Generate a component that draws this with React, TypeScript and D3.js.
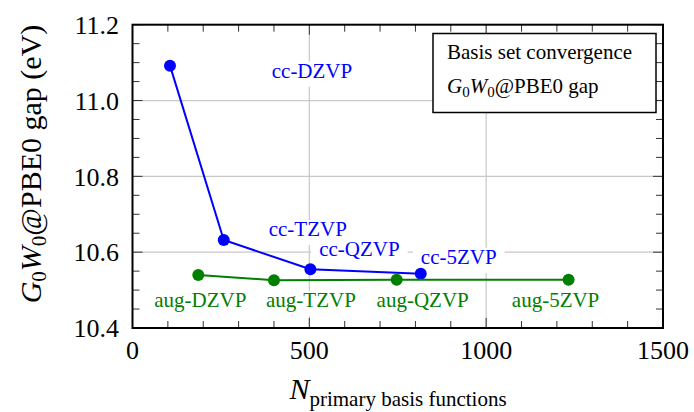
import { useEffect, useRef } from 'react'
import * as d3 from 'd3'

// cc basis sets (blue)
const ccLabels = ['cc-DZVP', 'cc-TZVP', 'cc-QZVP', 'cc-5ZVP']
const ccN = [106, 258, 503, 815]
const ccGap = [11.092, 10.632, 10.555, 10.543]

// aug basis sets (green)
const augLabels = ['aug-DZVP', 'aug-TZVP', 'aug-QZVP', 'aug-5ZVP']
const augN = [186, 400, 747, 1233]
const augGap = [10.54, 10.526, 10.527, 10.527]

const xTicks = [0, 500, 1000, 1500]
const yTicks = [10.4, 10.6, 10.8, 11.0, 11.2]

// label offsets from their point, in pixels
const ccOffsets = [[142, 12], [84, -4], [49, -13], [38, -10]]
const augOffsets = [[2, 32], [37, 27], [26, 27], [-13, 27]]

const FONT = 'Liberation Serif, DejaVu Serif, serif'

export default function App() {
  const svgRef = useRef<SVGSVGElement>(null)

  useEffect(() => {
    if (!svgRef.current) return
    const width = 694
    const height = 412
    const left = 132.5, right = 663, top = 24.7, bottom = 328

    const svg = d3.select(svgRef.current)
    svg.selectAll('*').remove()
    svg.attr('width', width).attr('height', height).attr('font-family', FONT)

    const x = d3.scaleLinear().domain([0, 1500]).range([left, right])
    const y = d3.scaleLinear().domain([10.4, 11.2]).range([bottom, top])

    // grid
    const grid = svg.append('g').attr('stroke', '#c8c8c8').attr('stroke-width', 1.2)
    xTicks.slice(1, -1).forEach(t => {
      grid.append('line').attr('x1', x(t)).attr('x2', x(t)).attr('y1', top).attr('y2', bottom)
    })
    yTicks.slice(1, -1).forEach(t => {
      grid.append('line').attr('x1', left).attr('x2', right).attr('y1', y(t)).attr('y2', y(t))
    })

    // ticks, inward on all sides
    const ticks = svg.append('g').attr('stroke', '#333').attr('stroke-width', 1)
    d3.range(0, 1501, 100).forEach(t => {
      const len = t % 500 === 0 ? 10 : 7
      ticks.append('line').attr('x1', x(t)).attr('x2', x(t)).attr('y1', bottom).attr('y2', bottom - len)
      ticks.append('line').attr('x1', x(t)).attr('x2', x(t)).attr('y1', top).attr('y2', top + len)
    })
    d3.range(0, 17).forEach(i => {
      const t = 10.4 + i * 0.05
      const len = i % 4 === 0 ? 10 : 7
      ticks.append('line').attr('x1', left).attr('x2', left + len).attr('y1', y(t)).attr('y2', y(t))
      ticks.append('line').attr('x1', right).attr('x2', right - len).attr('y1', y(t)).attr('y2', y(t))
    })

    // point labels on white boxes (they hide the grid)
    const labelLayer = svg.append('g')
    const series = [
      { labels: ccLabels, n: ccN, gap: ccGap, offs: ccOffsets, color: '#0000ff' },
      { labels: augLabels, n: augN, gap: augGap, offs: augOffsets, color: '#008000' },
    ]
    series.forEach(s => {
      s.labels.forEach((lab, i) => {
        const cx = x(s.n[i]) + s.offs[i][0]
        const by = y(s.gap[i]) + s.offs[i][1]
        const g = labelLayer.append('g')
        const txt = g.append('text')
          .attr('x', cx).attr('y', by)
          .attr('text-anchor', 'middle')
          .attr('font-size', 21)
          .attr('fill', s.color)
          .text(lab)
        const w = (txt.node() as SVGTextElement).getComputedTextLength()
        g.insert('rect', 'text')
          .attr('x', cx - w / 2 - 8).attr('y', by - 16)
          .attr('width', w + 16).attr('height', 25)
          .attr('fill', 'white')
      })
    })

    // lines and points
    series.forEach(s => {
      const pts = s.n.map((v, i) => [x(v), y(s.gap[i])] as [number, number])
      svg.append('path')
        .attr('d', d3.line()(pts))
        .attr('fill', 'none').attr('stroke', s.color).attr('stroke-width', 2)
      pts.forEach(p => {
        svg.append('circle').attr('cx', p[0]).attr('cy', p[1]).attr('r', 6).attr('fill', s.color)
      })
    })

    // frame
    svg.append('rect')
      .attr('x', left).attr('y', top).attr('width', right - left).attr('height', bottom - top)
      .attr('fill', 'none').attr('stroke', 'black').attr('stroke-width', 2)

    // tick labels
    xTicks.forEach(t => {
      svg.append('text').attr('x', x(t)).attr('y', 359)
        .attr('text-anchor', 'middle')
        .attr('font-size', 26)
        .text(t)
    })
    yTicks.forEach(t => {
      svg.append('text').attr('x', 119).attr('y', y(t) + 9.3)
        .attr('text-anchor', 'end')
        .attr('font-size', 26)
        .text(t.toFixed(1))
    })

    // x axis label
    const xl = svg.append('text').attr('x', 398).attr('y', 399)
      .attr('text-anchor', 'middle')
      .attr('font-size', 30)
    xl.append('tspan').attr('font-style', 'italic').text('N')
    xl.append('tspan').attr('dy', 7).attr('font-size', 21).text('primary basis functions')

    // y axis label
    const yl = svg.append('text')
      .attr('transform', 'translate(41, 164) rotate(-90)')
      .attr('text-anchor', 'middle')
      .attr('font-size', 30)
    yl.append('tspan').attr('font-style', 'italic').text('G')
    yl.append('tspan').attr('dy', 5).attr('font-size', 21).text('0')
    yl.append('tspan').attr('dy', -5).attr('font-style', 'italic').text('W')
    yl.append('tspan').attr('dy', 5).attr('font-size', 21).text('0')
    yl.append('tspan').attr('dy', -5).text('@PBE0 gap (eV)')

    // legend box
    svg.append('rect')
      .attr('x', 433).attr('y', 33.5).attr('width', 223).attr('height', 79)
      .attr('fill', 'white').attr('stroke', 'black').attr('stroke-width', 1.5)
    svg.append('text').attr('x', 447).attr('y', 59)
      .attr('font-size', 21)
      .text('Basis set convergence')
    const lg = svg.append('text').attr('x', 447).attr('y', 93)
      .attr('font-size', 21)
    lg.append('tspan').attr('font-style', 'italic').text('G')
    lg.append('tspan').attr('dy', 4).attr('font-size', 15).text('0')
    lg.append('tspan').attr('dy', -4).attr('font-style', 'italic').text('W')
    lg.append('tspan').attr('dy', 4).attr('font-size', 15).text('0')
    lg.append('tspan').attr('dy', -4).text('@PBE0 gap')
  }, [])

  return (
    <div style={{ position: 'absolute', left: 0, top: 0, background: 'white' }}>
      <svg ref={svgRef} style={{ display: 'block' }}></svg>
    </div>
  )
}
